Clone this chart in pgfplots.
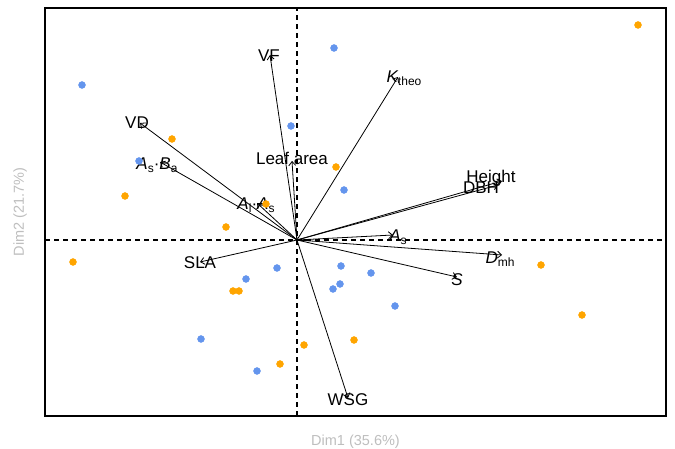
\documentclass[border=0pt]{standalone}
\usepackage{fontspec}
\setmainfont{Liberation Sans}
\usepackage{pgfplots}
\pgfplotsset{compat=1.18}
\usetikzlibrary{arrows.meta}
\definecolor{ptblue}{HTML}{6495ED}
\definecolor{ptorange}{HTML}{FFA500}
\definecolor{labgray}{HTML}{BEBEBE}
\newcommand{\lab}{\fontsize{17}{20}\selectfont}
\newcommand{\sub}[1]{\raisebox{-0.35ex}{\fontsize{12}{14}\selectfont #1}}
\begin{document}
\begin{tikzpicture}[x=1pt,y=1pt]
\path[use as bounding box] (0,0) rectangle (675,449);
\begin{axis}[at={(45pt,33pt)}, anchor=south west, scale only axis,
  width=621pt, height=408pt,
  xmin=-252, xmax=369, ymin=-176, ymax=232,
  ticks=none,
  axis line style={line width=1.2pt},
  xlabel={Dim1 (35.6\%)}, ylabel={Dim2 (21.7\%)},
  label style={font=\fontsize{14.5}{16}\selectfont, text=labgray},
  xlabel style={at={(rel axis cs:0.5,0)}, anchor=center, yshift=-26pt},
  ylabel style={at={(rel axis cs:0,0.5)}, anchor=center, yshift=25pt},
  arr/.style={black, line width=0.8pt, -{Straight Barb[length=4pt,width=7pt]}},
]
\addplot[black, line width=1.1pt, dash pattern=on 5pt off 4pt] coordinates {(-252,0) (369,0)};
\addplot[black, line width=1.1pt, dash pattern=on 5pt off 4pt] coordinates {(0,-176) (0,232)};
% individuals
\addplot[only marks, color=ptblue, mark=*, mark size=3.5pt, mark options={draw=none, fill=ptblue}] coordinates {
(-215,155) (37,192) (-6,114) (-158,79) (47,50) (-20,-28) (44,-26) (74,-33)
(-51,-39) (43,-44) (36,-49) (98,-66) (-96,-99) (-40,-131)};
\addplot[only marks, color=ptorange, mark=*, mark size=3.5pt, mark options={draw=none, fill=ptorange}] coordinates {
(341,215) (-125,101) (39,73) (-172,44) (-71,13) (-31,36) (-224,-22) (244,-25)
(-64,-51) (-58,-51) (285,-75) (57,-100) (7,-105) (-17,-124)};
% variable arrows
\addplot[arr] coordinates {(0,0) (-27,185)};
\addplot[arr] coordinates {(0,0) (101,163)};
\addplot[arr] coordinates {(0,0) (-157,117)};
\addplot[arr] coordinates {(0,0) (-137,78)};
\addplot[arr] coordinates {(0,0) (-40,37)};
\addplot[arr] coordinates {(0,0) (-5,79)};
\addplot[arr] coordinates {(0,0) (205,59)};
\addplot[arr] coordinates {(0,0) (201,55)};
\addplot[arr] coordinates {(0,0) (96,5)};
\addplot[arr] coordinates {(0,0) (205,-15)};
\addplot[arr] coordinates {(0,0) (160,-37)};
\addplot[arr] coordinates {(0,0) (-97,-22)};
\addplot[arr] coordinates {(0,0) (51,-158)};
% labels
\node[font=\lab] at (axis cs:-28,184) {VF};
\node[font=\lab] at (axis cs:107,162) {\itshape K\upshape\sub{theo}};
\node[font=\lab] at (axis cs:-160,117) {VD};
\node[font=\lab] at (axis cs:-140,75) {\itshape A\upshape\sub{s}·\itshape B\upshape\sub{a}};
\node[font=\lab] at (axis cs:-41,35) {\itshape A\upshape\sub{l}·\itshape A\upshape\sub{s}};
\node[font=\lab] at (axis cs:-5,82) {Leaf area};
\node[font=\lab] at (axis cs:194,62) {Height};
\node[font=\lab] at (axis cs:184,52) {DBH};
\node[font=\lab] at (axis cs:101,3) {\itshape A\upshape\sub{s}};
\node[font=\lab] at (axis cs:203,-19) {\itshape D\upshape\sub{mh}};
\node[font=\lab] at (axis cs:160,-40) {\itshape S};
\node[font=\lab] at (axis cs:-97,-23) {SLA};
\node[font=\lab] at (axis cs:51,-160) {WSG};
\end{axis}
\end{tikzpicture}
\end{document}
